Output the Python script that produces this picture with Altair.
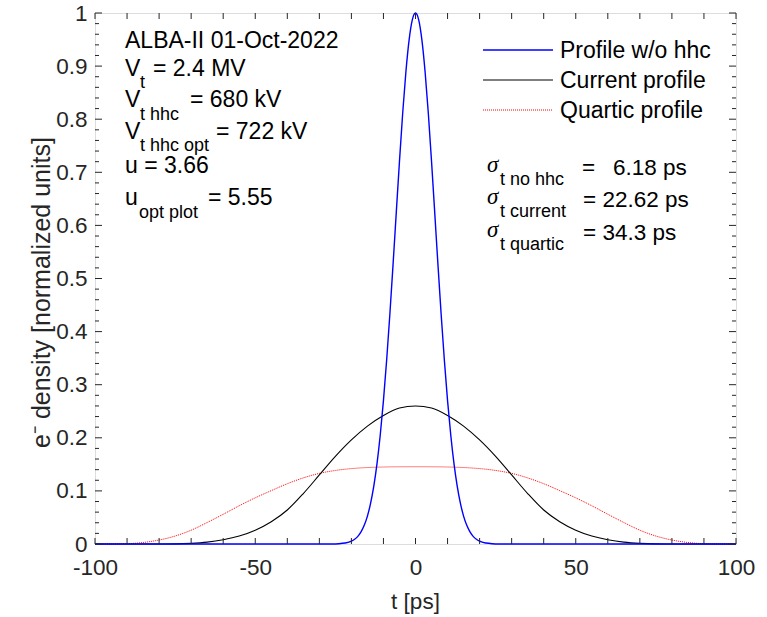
import altair as alt
import pandas as pd

# ---------------- data ----------------
t_blue = [-100, -40, -30, -26, -24, -22, -20, -19, -18, -17, -16, -15, -14, -13, -12, -11, -10,
          -9, -8, -7, -6, -5, -4, -3, -2, -1, 0, 1, 2, 3, 4, 5, 6, 7, 8, 9, 10, 11, 12, 13, 14,
          15, 16, 17, 18, 19, 20, 22, 24, 26, 30, 40, 100]
v_blue = [0, 0, 0, 0.0001, 0.0005, 0.0018, 0.0053, 0.0089, 0.0144, 0.0228, 0.0351, 0.0526,
          0.0770, 0.1095, 0.1519, 0.2052, 0.2701, 0.3464, 0.4328, 0.5266, 0.6241, 0.7209,
          0.8111, 0.8889, 0.9490, 0.9870, 1.0, 0.9870, 0.9490, 0.8889, 0.8111, 0.7209, 0.6241,
          0.5266, 0.4328, 0.3464, 0.2701, 0.2052, 0.1519, 0.1095, 0.0770, 0.0526, 0.0351,
          0.0228, 0.0144, 0.0089, 0.0053, 0.0018, 0.0005, 0.0001, 0, 0, 0]

t_cur = [-100, -80, -75, -70, -65, -60, -55, -50, -45, -40, -35, -30, -25, -20, -15, -10, -5, 0,
         5, 10, 15, 20, 25, 30, 35, 40, 45, 50, 55, 60, 65, 70, 75, 80, 100]
v_cur = [0, 0, 0.0002, 0.0012, 0.0035, 0.008, 0.015, 0.026, 0.042, 0.064, 0.095, 0.130, 0.165,
         0.196, 0.222, 0.242, 0.256, 0.260, 0.256, 0.242, 0.222, 0.196, 0.165, 0.130, 0.095,
         0.064, 0.042, 0.026, 0.015, 0.008, 0.0035, 0.0012, 0.0002, 0, 0]

t_quart = [-100, -95, -90, -85, -80, -75, -70, -65, -60, -55, -50, -45, -40, -35, -30, -25, -20,
           -15, -10, -5, 0, 5, 10, 15, 20, 25, 30, 35, 40, 45, 50, 55, 60, 65, 70, 75, 80, 85,
           90, 95, 100]
v_quart = [0, 0, 0.0006, 0.0028, 0.0075, 0.0150, 0.0260, 0.0405, 0.0560, 0.0720, 0.0870, 0.1005,
           0.1135, 0.1245, 0.1330, 0.1385, 0.1420, 0.1440, 0.1450, 0.1454, 0.1455, 0.1454,
           0.1450, 0.1440, 0.1420, 0.1385, 0.1330, 0.1245, 0.1135, 0.1005, 0.0870, 0.0720,
           0.0560, 0.0405, 0.0260, 0.0150, 0.0075, 0.0028, 0.0006, 0, 0]

x_label_ticks = [-100, -50, 0, 50, 100]
x_all_ticks = list(range(-100, 101, 10))
y_major_ticks = [0, 0.1, 0.2, 0.3, 0.4, 0.5, 0.6, 0.7, 0.8, 0.9, 1]
y_minor_ticks = [round(i * 0.02, 2) for i in range(51) if i % 5 != 0]

series_names = ["Profile w/o hhc", "Current profile", "Quartic profile"]

# ---------------- layout / style ----------------
W, H = 641, 531
OX, OY = 95, 13
FONT = "Liberation Sans"
AX = "#262626"
TS = 23      # annotation text size
SUB = 18     # subscript size

xs = alt.Scale(domain=[-100, 100], nice=False, zero=False)
ys = alt.Scale(domain=[0, 1], nice=False, zero=False)
dummy = alt.Data(values=[{"a": 1}])

df_blue = pd.DataFrame({"t": t_blue, "v": v_blue})
df_cur = pd.DataFrame({"t": t_cur, "v": v_cur})
df_quart = pd.DataFrame({"t": t_quart, "v": v_quart})

x_axis = alt.Axis(values=x_label_ticks, labelExpr="'' + datum.value", domain=False, ticks=False,
                  grid=False, labelFont=FONT, labelFontSize=22.5, labelColor=AX, labelPadding=12,
                  labelFlush=False, labelOverlap=False,
                  title="t [ps]", titleFont=FONT, titleFontSize=22.5, titleFontWeight="normal",
                  titleColor=AX, titleX=320, titleY=64, titleBaseline="alphabetic",
                  titleAlign="center")
y_axis = alt.Axis(values=y_major_ticks, labelExpr="'' + datum.value", domain=False, ticks=False,
                  grid=False, labelFont=FONT, labelFontSize=22.5, labelColor=AX, labelPadding=8,
                  labelFlush=False, labelOverlap=False,
                  title="e\u207b density [normalized units]", titleFont=FONT, titleFontSize=25,
                  titleFontWeight="normal", titleColor=AX, titleAngle=270, titleX=-46, titleY=279,
                  titleBaseline="alphabetic", titleAlign="center")

X = alt.X("t:Q", scale=xs, axis=x_axis)
Y = alt.Y("v:Q", scale=ys, axis=y_axis)

quart = alt.Chart(df_quart).mark_line(color="#ff0000", strokeWidth=1, strokeDash=[1, 1],
                                      interpolate="monotone").encode(x=X, y=Y)
cur = alt.Chart(df_cur).mark_line(color="#000000", strokeWidth=1.1,
                                  interpolate="monotone").encode(x=X, y=Y)
blue = alt.Chart(df_blue).mark_line(color="#0000ff", strokeWidth=1.4,
                                    interpolate="monotone").encode(x=X, y=Y)

# inward ticks on all four sides
df_xt = pd.DataFrame({"t": x_all_ticks})
df_ymaj = pd.DataFrame({"v": y_major_ticks})
df_ymin = pd.DataFrame({"v": y_minor_ticks})
XL, YMAJ, YMIN = 6, 7, 4
ticks = [
    alt.Chart(df_xt).mark_rule(color=AX, strokeWidth=1).encode(
        x=X, y=alt.value(H), y2=alt.value(H - XL)),
    alt.Chart(df_xt).mark_rule(color=AX, strokeWidth=1).encode(
        x=X, y=alt.value(0), y2=alt.value(XL)),
    alt.Chart(df_ymaj).mark_rule(color=AX, strokeWidth=1).encode(
        y=Y, x=alt.value(0), x2=alt.value(YMAJ)),
    alt.Chart(df_ymaj).mark_rule(color=AX, strokeWidth=1).encode(
        y=Y, x=alt.value(W), x2=alt.value(W - YMAJ)),
    alt.Chart(df_ymin).mark_rule(color=AX, strokeWidth=1).encode(
        y=Y, x=alt.value(0), x2=alt.value(YMIN)),
    alt.Chart(df_ymin).mark_rule(color=AX, strokeWidth=1).encode(
        y=Y, x=alt.value(W), x2=alt.value(W - YMIN)),
]


def txt(s, x, y, size=TS, font=FONT, italic=False):
    kw = dict(text=s, font=font, fontSize=size, align="left", baseline="alphabetic",
              color="#000000")
    if italic:
        kw["fontStyle"] = "italic"
    return alt.Chart(dummy).mark_text(**kw).encode(x=alt.value(x - OX), y=alt.value(y - OY))


SIG = "Liberation Serif"
ann = [
    txt("ALBA-II 01-Oct-2022", 125, 48),
    txt("V", 125, 76), txt("t", 140, 88, SUB), txt("= 2.4 MV", 153, 76),
    txt("V", 125, 107), txt("t hhc", 140, 120, SUB), txt("= 680 kV", 190, 107),
    txt("V", 125, 139), txt("t hhc opt", 140, 151, SUB), txt("= 722 kV", 216, 139),
    txt("u = 3.66", 125, 173),
    txt("u", 125, 205), txt("opt plot", 139, 218, SUB), txt("= 5.55", 208, 205),
    # sigma block
    txt("\u03c3", 487, 172, 23, SIG, True), txt("t no hhc", 500, 185, SUB),
    txt("=", 582, 175, 22.5), txt("6.18 ps", 613, 175, 22.5),
    txt("\u03c3", 487, 204, 23, SIG, True), txt("t current", 500, 217, SUB),
    txt("= 22.62 ps", 583, 207, 22.5),
    txt("\u03c3", 487, 237, 23, SIG, True), txt("t quartic", 500, 250, SUB),
    txt("= 34.3 ps", 583, 240, 22.5),
    # legend labels
    txt(series_names[0], 560, 58), txt(series_names[1], 560, 88), txt(series_names[2], 560, 118),
]


def leg_line(y, color, width, dash=None):
    kw = dict(color=color, strokeWidth=width)
    if dash:
        kw["strokeDash"] = dash
    return alt.Chart(dummy).mark_rule(**kw).encode(
        x=alt.value(483 - OX), x2=alt.value(553 - OX), y=alt.value(y - OY))


legend = [leg_line(50, "#0000ff", 1.4), leg_line(80, "#000000", 1.1),
          leg_line(110, "#ff0000", 1, [1, 1])]

chart = alt.layer(quart, cur, blue, *ticks, *legend, *ann).properties(
    width=W, height=H,
    autosize=alt.AutoSizeParams(type="none"),
    padding={"left": OX, "top": OY, "right": 767 - OX - W, "bottom": 617 - OY - H},
).configure_view(stroke=AX, strokeWidth=1).configure(background="white")

chart.save("out.html", embed_options={"renderer": "svg", "actions": False})
